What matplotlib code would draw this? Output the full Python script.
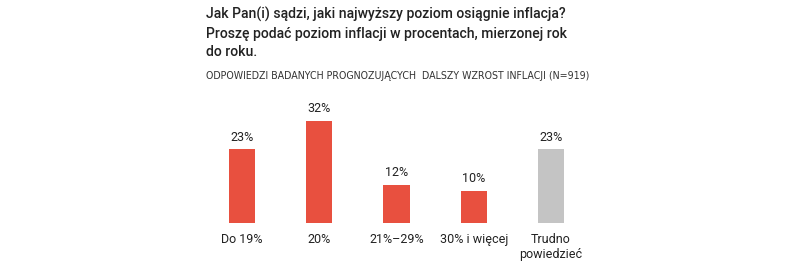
import matplotlib
matplotlib.use("Agg")
import matplotlib.pyplot as plt

categories = ["Do 19%", "20%", "21%–29%", "30% i więcej", "Trudno\npowiedzieć"]
values = [23, 32, 12, 10, 23]
value_labels = ["23%", "32%", "12%", "10%", "23%"]
colors = ["#E8503F", "#E8503F", "#E8503F", "#E8503F", "#C4C4C4"]

title = "Jak Pan(i) sądzi, jaki najwyższy poziom osiągnie inflacja?\nProszę podać poziom inflacji w procentach, mierzonej rok\ndo roku."
subtitle = "ODPOWIEDZI BADANYCH PROGNOZUJĄCYCH  DALSZY WZROST INFLACJI (N=919)"

plt.rcParams['font.family'] = ['Roboto', 'DejaVu Sans']

W, H = 800, 265
fig = plt.figure(figsize=(W/100, H/100), dpi=100)
fig.patch.set_facecolor("white")

ax_left, ax_right = 200, 600
ax_bottom, ax_top = 223, 100
ax = fig.add_axes([ax_left/W, 1-ax_bottom/H, (ax_right-ax_left)/W, (ax_bottom-ax_top)/H])
x = list(range(len(categories)))
ax.bar(x, values, width=0.337, color=colors)
ax.set_xlim(-0.5437, 4.634)
ax.set_ylim(0, (ax_bottom-ax_top)/3.2)
for xi, v, lab in zip(x, values, value_labels):
    ax.annotate(lab, (xi, v), xytext=(0, 4), textcoords="offset points",
                ha="center", va="bottom", fontsize=9, color="#222222")
ax.set_xticks(x)
ax.set_xticklabels(categories, fontsize=9, color="#222222", linespacing=1.2)
ax.tick_params(axis="x", length=0, pad=7)
ax.set_yticks([])
for s in ax.spines.values():
    s.set_visible(False)

fig.text(206/W, 1-7/H, title, ha="left", va="top", fontsize=10.1,
         fontweight="medium", color="#222222", linespacing=1.42)
fig.text(206/W, 1-76/H, subtitle, ha="left", va="center", fontsize=6.85,
         family=['DejaVu Sans'], color="#333333")

fig.savefig("out.png", dpi=100, facecolor="white")
